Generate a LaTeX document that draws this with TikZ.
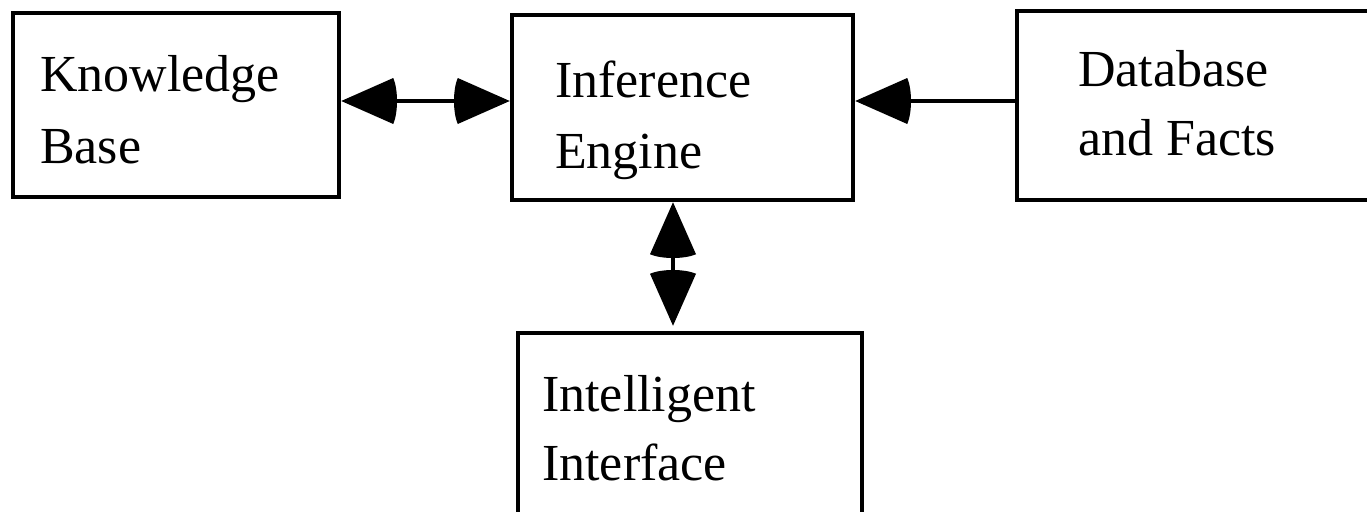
\documentclass[tikz,border=0pt]{standalone}
\usepackage{fontspec}
\setmainfont{Liberation Serif}
\usetikzlibrary{arrows.meta}

% Filled cone tip with a slightly rounded back
\pgfdeclarearrow{
  name = BulgeCone,
  parameters = {\the\pgfarrowlength,\the\pgfarrowwidth},
  setup code = {
    \pgfarrowssettipend{0pt}
    \pgfarrowssetlineend{-.5\pgfarrowlength}
    \pgfarrowssetbackend{-\pgfarrowlength}
    \pgfarrowssavethe\pgfarrowlength
    \pgfarrowssavethe\pgfarrowwidth
  },
  drawing code = {
    \pgfpathmoveto{\pgfpointorigin}
    \pgfpathlineto{\pgfpoint{-\pgfarrowlength}{.5\pgfarrowwidth}}
    \pgfpathcurveto{\pgfpoint{-\pgfarrowlength-5pt}{.25\pgfarrowwidth}}
                   {\pgfpoint{-\pgfarrowlength-5pt}{-.25\pgfarrowwidth}}
                   {\pgfpoint{-\pgfarrowlength}{-.5\pgfarrowwidth}}
    \pgfpathclose
    \pgfusepathqfill
  },
  defaults = {length=52pt, width=46pt}
}

\tikzset{
  box/.style={draw, line width=4.5pt, rectangle, inner sep=0pt},
  label text/.style={anchor=base west, inner sep=0pt, font=\fontsize{52}{60}\selectfont},
  con/.style={line width=3.5pt},
}

\begin{document}
\begin{tikzpicture}[x=1pt, y=-1pt]
  \useasboundingbox (0,0) rectangle (1367,511);
  \clip (0,0) rectangle (1367,511);
  \fill[white] (0,0) rectangle (1367,511);

  % boxes
  \node[box, minimum width=326pt, minimum height=184pt] (kb) at (176,105) {};
  \node[box, minimum width=341pt, minimum height=185pt] (ie) at (682.5,107.5) {};
  \node[box, minimum width=363pt, minimum height=189pt] (db) at (1198.5,105.5) {};
  \node[box, minimum width=344pt, minimum height=197pt] (ii) at (690,431.5) {};

  % labels
  \node[label text] (kbA) at (40,92) {Knowledge};
  \node[label text] (kbB) at (40,163) {Base};
  \node[label text] (ieA) at (555,97) {Inference};
  \node[label text] (ieB) at (555,168) {Engine};
  \node[label text] (dbA) at (1078,86) {Database};
  \node[label text] (dbB) at (1078,155) {and Facts};
  \node[label text] (iiA) at (542,411) {Intelligent};
  \node[label text] (iiB) at (542,480) {Interface};

  % connectors
  \draw[con, {BulgeCone}-{BulgeCone}] (kb.east |- 0,101) -- (ie.west |- 0,101);
  \draw[con, -{BulgeCone}] (db.west |- 0,101) -- (ie.east |- 0,101);
  \draw[con, {BulgeCone}-{BulgeCone}, shorten >=5pt] (ie.south -| 673,0) -- (ii.north -| 673,0);
\end{tikzpicture}
\end{document}
